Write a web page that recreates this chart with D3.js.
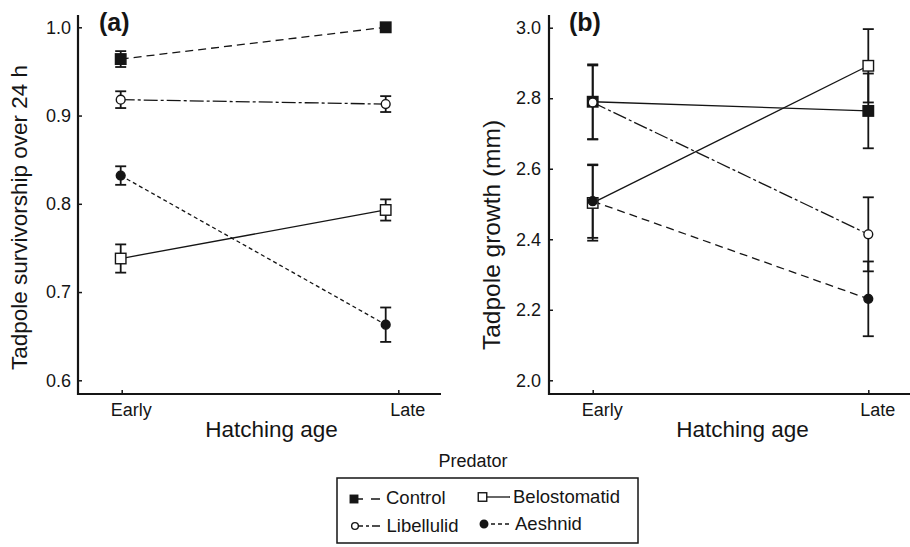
<!DOCTYPE html>
<html>
<head>
<meta charset="utf-8">
<script src="https://cdn.jsdelivr.net/npm/d3@7"></script>
<style>
  html, body { margin: 0; padding: 0; background: #fff; }
  svg { display: block; font-family: "Liberation Sans", Arial, Helvetica, sans-serif; }
</style>
</head>
<body>
<svg id="chart" width="910" height="547"></svg>
<script>
// ---------------- DATA ----------------
const categories = ["Early", "Late"];
const predators = ["Control", "Belostomatid", "Libellulid", "Aeshnid"];

// Panel (a): Tadpole survivorship over 24 h (mean, ±SE)
const survControl = [0.964, 1.000];
const survControlErr = [0.009, 0.000];
const survBelostomatid = [0.738, 0.793];
const survBelostomatidErr = [0.016, 0.012];
const survLibellulid = [0.918, 0.913];
const survLibellulidErr = [0.0095, 0.009];
const survAeshnid = [0.832, 0.663];
const survAeshnidErr = [0.0105, 0.0195];
const survTicks = [0.6, 0.7, 0.8, 0.9, 1.0];

// Panel (b): Tadpole growth (mm) (mean, ±SE)
const growControl = [2.790, 2.764];
const growControlErr = [0.106, 0.106];
const growBelostomatid = [2.503, 2.892];
const growBelostomatidErr = [0.107, 0.104];
const growLibellulid = [2.788, 2.414];
const growLibellulidErr = [0.105, 0.105];
const growAeshnid = [2.508, 2.231];
const growAeshnidErr = [0.104, 0.106];
const growTicks = [2.0, 2.2, 2.4, 2.6, 2.8, 3.0];

// ---------------- STYLE / LAYOUT ----------------
const INK = "#151515";
const svg = d3.select("#chart");

const panels = [
  {
    tag: "(a)", tagX: 99, tagSize: 25,
    yLabel: "Tadpole survivorship over 24 h", yLabelX: 27, yLabelY: 217.5, yLabelSize: 22.5,
    x0: 78, x1: 441, yTop: 15, yBase: 394,
    domain: [0.6, 1.0], yRange: [380.3, 27.3], ticks: survTicks,
    tickRange: [121.7, 398.3], markRange: [120.7, 385.7],
    xLabelX: 271.5, tickPad: 7,
    series: {
      Control: [survControl, survControlErr],
      Belostomatid: [survBelostomatid, survBelostomatidErr],
      Libellulid: [survLibellulid, survLibellulidErr],
      Aeshnid: [survAeshnid, survAeshnidErr]
    },
    dash: { Control: "8,5", Belostomatid: null, Libellulid: "14,3,3,3", Aeshnid: "4,3" }
  },
  {
    tag: "(b)", tagX: 569, tagSize: 25,
    yLabel: "Tadpole growth (mm)", yLabelX: 500, yLabelY: 235, yLabelSize: 24.5,
    x0: 549, x1: 910, yTop: 15, yBase: 394,
    domain: [2.0, 3.0], yRange: [380.3, 27.7], ticks: growTicks,
    tickRange: [592.7, 868.3], markRange: [592.7, 868.3],
    xLabelX: 742.5, tickPad: 8,
    series: {
      Control: [growControl, growControlErr],
      Belostomatid: [growBelostomatid, growBelostomatidErr],
      Libellulid: [growLibellulid, growLibellulidErr],
      Aeshnid: [growAeshnid, growAeshnidErr]
    },
    dash: { Control: null, Belostomatid: null, Libellulid: "14,3,3,3", Aeshnid: "8,5" }
  }
];

const markerStyle = {
  Control: { shape: "square", fill: INK },
  Belostomatid: { shape: "square", fill: "#fff" },
  Libellulid: { shape: "circle", fill: "#fff" },
  Aeshnid: { shape: "circle", fill: INK }
};

function drawMarker(g, shape, fill, cx, cy, size) {
  if (shape === "square") {
    g.append("rect")
      .attr("x", cx - size / 2).attr("y", cy - size / 2)
      .attr("width", size).attr("height", size)
      .attr("fill", fill).attr("stroke", INK).attr("stroke-width", 1.4);
  } else {
    g.append("circle")
      .attr("cx", cx).attr("cy", cy).attr("r", size * 0.42)
      .attr("fill", fill).attr("stroke", INK).attr("stroke-width", 1.4);
  }
}

panels.forEach(p => {
  const g = svg.append("g");
  const y = d3.scaleLinear().domain(p.domain).range(p.yRange);
  const xTick = d3.scalePoint().domain(categories).range(p.tickRange);
  const xMark = d3.scalePoint().domain(categories).range(p.markRange);

  // Y axis
  const yAxis = d3.axisLeft(y).tickValues(p.ticks).tickSize(-4).tickPadding(p.tickPad)
    .tickFormat(d3.format(".1f"));
  const ya = g.append("g").attr("transform", `translate(${p.x0},0)`).call(yAxis);
  ya.select(".domain").remove();
  ya.selectAll("line").attr("stroke", INK).attr("stroke-width", 1.5);
  ya.selectAll("text").attr("font-size", 18).attr("fill", INK)
    .attr("font-family", "Liberation Sans, Arial, sans-serif");

  // X axis
  const xAxis = d3.axisBottom(xTick).tickSize(-4);
  const xa = g.append("g").attr("transform", `translate(0,${p.yBase})`).call(xAxis);
  xa.select(".domain").remove();
  xa.selectAll("line").attr("stroke", INK).attr("stroke-width", 1.5);
  xa.selectAll("text").attr("font-size", 18).attr("fill", INK)
    .attr("y", 22).attr("dy", 0).attr("dx", 9)
    .attr("font-family", "Liberation Sans, Arial, sans-serif");

  // Axis lines
  g.append("line").attr("x1", p.x0).attr("x2", p.x0).attr("y1", p.yTop).attr("y2", p.yBase + 1)
    .attr("stroke", INK).attr("stroke-width", 2.2);
  g.append("line").attr("x1", p.x0 - 1).attr("x2", p.x1).attr("y1", p.yBase).attr("y2", p.yBase)
    .attr("stroke", INK).attr("stroke-width", 2.2);

  // Titles
  g.append("text").attr("x", p.xLabelX).attr("y", 437).attr("text-anchor", "middle")
    .attr("font-size", 22.5).attr("fill", INK).text("Hatching age");
  g.append("text").attr("transform", `translate(${p.yLabelX},${p.yLabelY}) rotate(-90)`)
    .attr("text-anchor", "middle").attr("font-size", p.yLabelSize).attr("fill", INK).text(p.yLabel);
  g.append("text").attr("x", p.tagX).attr("y", 31).attr("font-size", p.tagSize)
    .attr("font-weight", "bold").attr("fill", INK).text(p.tag);

  // Lines
  const line = d3.line().x(d => xMark(d.c)).y(d => y(d.v));
  predators.forEach(name => {
    const [vals] = p.series[name];
    const pts = categories.map((c, i) => ({ c, v: vals[i] }));
    g.append("path").attr("d", line(pts)).attr("fill", "none")
      .attr("stroke", INK).attr("stroke-width", 1.3)
      .attr("stroke-dasharray", p.dash[name]);
  });

  // Error bars
  predators.forEach(name => {
    const [vals, errs] = p.series[name];
    categories.forEach((c, i) => {
      if (!errs[i]) return;
      const cx = xMark(c), lo = y(vals[i] - errs[i]), hi = y(vals[i] + errs[i]);
      g.append("line").attr("x1", cx).attr("x2", cx).attr("y1", lo).attr("y2", hi)
        .attr("stroke", INK).attr("stroke-width", 1.8);
      [lo, hi].forEach(yy => g.append("line").attr("x1", cx - 5.5).attr("x2", cx + 5.5)
        .attr("y1", yy).attr("y2", yy).attr("stroke", INK).attr("stroke-width", 1.8));
    });
  });

  // Markers (squares first, circles on top)
  predators.forEach(name => {
    const [vals] = p.series[name];
    const st = markerStyle[name];
    categories.forEach((c, i) => drawMarker(g, st.shape, st.fill, xMark(c), y(vals[i]), 10.5));
  });
});

// ---------------- LEGEND ----------------
const lg = svg.append("g");
lg.append("text").attr("x", 473).attr("y", 467).attr("text-anchor", "middle")
  .attr("font-size", 18).attr("fill", INK).text("Predator");
lg.append("rect").attr("x", 337).attr("y", 478).attr("width", 301).attr("height", 65)
  .attr("fill", "none").attr("stroke", INK).attr("stroke-width", 1.5);

const legendItems = [
  { name: "Control", mx: 354, my: 499, x2: 383, tx: 386, ty: 504, size: 7.5, dash: "9,8" },
  { name: "Belostomatid", mx: 482.5, my: 497, x2: 510, tx: 513, ty: 503, size: 8.5, dash: null },
  { name: "Libellulid", mx: 355, my: 526, x2: 383, tx: 386.5, ty: 532, size: 8, dash: "8,3,3,3" },
  { name: "Aeshnid", mx: 484, my: 524, x2: 511, tx: 515, ty: 530, size: 9, dash: "4,3" }
];
legendItems.forEach(it => {
  const st = markerStyle[it.name];
  lg.append("line").attr("x1", it.mx).attr("x2", it.x2).attr("y1", it.my).attr("y2", it.my)
    .attr("stroke", INK).attr("stroke-width", 1.3).attr("stroke-dasharray", it.dash);
  drawMarker(lg, st.shape, st.fill, it.mx, it.my, it.size);
  lg.append("text").attr("x", it.tx).attr("y", it.ty).attr("font-size", 18.5)
    .attr("fill", INK).text(it.name);
});
</script>
</body>
</html>
